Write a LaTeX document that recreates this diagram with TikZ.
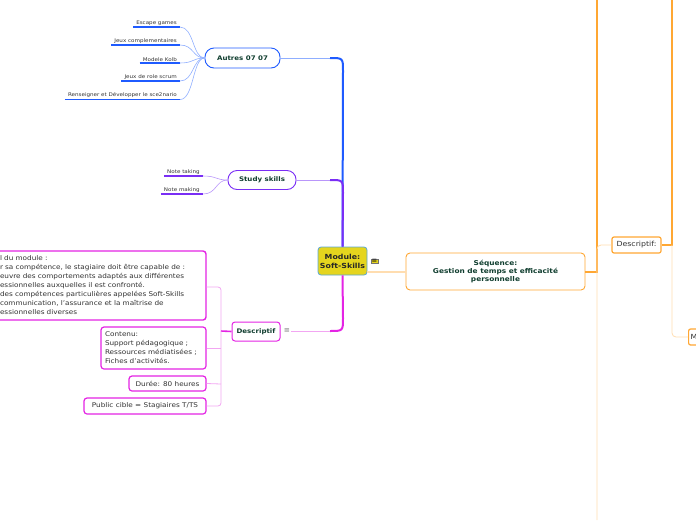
\documentclass[tikz,border=0pt]{standalone}
\usepackage{fontspec}
\setmainfont{DejaVu Sans}[FakeStretch=1.12]
\definecolor{blueM}{HTML}{1F5BFF}
\definecolor{blueL}{HTML}{8FAEFF}
\definecolor{purM}{HTML}{7A2EF5}
\definecolor{purL}{HTML}{B996FA}
\definecolor{magM}{HTML}{E424E4}
\definecolor{magL}{HTML}{F2A6F2}
\definecolor{orM}{HTML}{FFA733}
\definecolor{orL}{HTML}{FFDDB0}
\definecolor{titlec}{HTML}{0F3D2E}
\definecolor{leafc}{HTML}{333333}
\definecolor{cfill}{HTML}{E5D51E}
\definecolor{cborder}{HTML}{5AA6D6}
\begin{document}
\begin{tikzpicture}[x=1pt,y=-1pt,
  title/.style={font=\fontsize{6.3}{7.8}\selectfont\bfseries, text=titlec, align=center, inner sep=0pt},
  leaf/.style={font=\fontsize{5}{6}\selectfont, text=leafc, inner xsep=3pt, inner ysep=1.5pt, anchor=south east},
  mbox/.style={draw=magM, line width=1.2pt, rounded corners=3pt, fill=white, font=\fontsize{6.5}{9}\selectfont, text=leafc, align=left, inner ysep=0pt},
  obox/.style={draw=orM, line width=1.2pt, rounded corners=2pt, fill=white, font=\fontsize{7}{8}\selectfont, text=leafc, inner sep=0pt}
]
\useasboundingbox (0,0) rectangle (696,520);
\clip (0,0) rectangle (696,520);

% ---------- coordinates ----------
\coordinate (bA) at (330,58);
\coordinate (bB) at (343,71);
\coordinate (pA) at (330,180);
\coordinate (pB) at (343,193);
\coordinate (mA) at (330,331);
\coordinate (mB) at (343,318);
\coordinate (oTop) at (597,0);
\coordinate (oMid) at (597,272);
\coordinate (oBot) at (597,520);
\coordinate (o2Top) at (672,0);
\coordinate (o2Mid) at (672,245);

% ---------- nodes ----------
\node[draw=cborder, fill=cfill, line width=0.8pt, rounded corners=3pt, minimum width=49pt, minimum height=28pt, title, font=\fontsize{7}{9}\selectfont\bfseries, text=black!85] (center) at (342.5,261) {Module:\\Soft-Skills};
\node[draw=black!55, fill=cfill, inner sep=0.6pt, font=\fontsize{6}{6}\selectfont] (cicon) at (374.5,261) {≡};

\node[draw=blueM, line width=0.9pt, rounded corners=9pt, minimum width=75pt, minimum height=20pt, title] (autres) at (242.5,58) {Autres 07 07};
\node[draw=purM, line width=0.9pt, rounded corners=9pt, minimum width=68pt, minimum height=19pt, title] (study) at (262,180) {Study skills};
\node[draw=magM, line width=1pt, rounded corners=3pt, minimum width=48pt, minimum height=19pt, title] (desc) at (256,331.5) {Descriptif};
\node[font=\fontsize{6.5}{6.5}\selectfont, text=black!60, inner sep=0.5pt] (dicon) at (287,331) {≡};

\node[draw=orM, line width=0.9pt, rounded corners=4pt, minimum width=179pt, minimum height=37pt, title, font=\fontsize{6.6}{8.3}\selectfont\bfseries] (seq) at (495.5,271.5) {Séquence:\\Gestion de temps et efficacité\\personnelle};
\node[obox, minimum width=49pt, minimum height=16pt] (odesc) at (636.5,245) {Descriptif:};
\node[obox, anchor=west, minimum height=16pt, text width=30pt, align=left, inner xsep=2pt] (om) at (688,337) {M};

% leaves of Autres
\node[leaf] (e1) at (180,27) {Escape games};
\node[leaf] (e2) at (180,45) {Jeux complementaires};
\node[leaf] (e3) at (180,63) {Modele Kolb};
\node[leaf] (e4) at (180,81) {Jeux de role scrum};
\node[leaf] (e5) at (180,99.5) {Renseigner et Développer le sce2nario};
% leaves of Study skills
\node[leaf] (s1) at (203,176) {Note taking};
\node[leaf] (s2) at (203,194) {Note making};

% boxes of Descriptif
\node[mbox, line width=1.4pt, text width=201pt, inner xsep=5pt, minimum height=69pt] (big) at (100.5,285.5) {l du module :\\
r sa compétence, le stagiaire doit être capable de :\\
euvre des comportements adaptés aux différentes\\
essionnelles auxquelles il est confronté.\\
des compétences particulières appelées Soft-Skills\\
communication, l'assurance et la maîtrise de\\
essionnelles diverses};
\node[mbox, text width=97pt, inner xsep=4pt, minimum height=42pt] (cont) at (153.5,348) {Contenu:\\Support pédagogique ;\\Ressources médiatisées ;\\Fiches d'activités.};
\node[mbox, minimum width=77pt, minimum height=15pt, inner xsep=3pt] (dur) at (167.5,383.5) {Durée: 80 heures};
\node[mbox, minimum width=122pt, minimum height=16pt, inner xsep=3pt] (pub) at (145,406) {Public cible = Stagiaires T/TS};

% ---------- connectors ----------
% blue
\draw[blueL, line width=0.8pt] (autres.east) -- (bA);
\draw[blueM, line width=2pt] (bA) .. controls (343,58) .. (bB) -- (center.north);
\foreach \n in {e1,e2,e3,e4,e5}{
  \draw[blueM, line width=1.1pt] (\n.south west) -- (\n.south east);
  \draw[blueL, line width=0.6pt] (\n.south east) .. controls +(14,0) and +(-12,0) .. (autres.west);
}
% purple
\draw[purL, line width=0.8pt] (study.east) -- (pA);
\draw[purM, line width=2pt] (pA) .. controls (343,180) .. (pB) -- (center.north);
\foreach \n in {s1,s2}{
  \draw[purM, line width=1.1pt] (\n.south west) -- (\n.south east);
  \draw[purL, line width=0.6pt] (\n.south east) .. controls +(14,0) and +(-12,0) .. (study.west);
}
% magenta
\draw[magM, line width=2pt] (center.south) -- (mB) .. controls (343,331) .. (mA);
\draw[magL, line width=0.8pt] (mA) -- (dicon.east);
\draw[magM, line width=1.6pt] (desc.west) -- (221,331);
\draw[magL, line width=0.8pt, rounded corners=3pt] (big.east |- 0,287) -- (221,287) -- (221,406) -- (pub.east);
\draw[magL, line width=0.8pt] (cont.east) -- (221,348);
\draw[magL, line width=0.8pt] (dur.east) -- (221,384);
% orange
\draw[orL, line width=1.4pt] (center.east |- 0,272) -- (seq.west |- 0,272);
\draw[orM, line width=1.6pt] (seq.east |- oMid) -- (oMid) -- (oTop);
\draw[orL, line width=0.8pt, rounded corners=4pt] (odesc.west) -- (597,245) -- (oBot);
\draw[orM, line width=1.2pt] (odesc.east) -- (o2Mid) -- (o2Top);
\draw[orL, line width=0.8pt, rounded corners=4pt] (o2Mid) -- (672,337) -- (om.west);
\end{tikzpicture}
\end{document}
